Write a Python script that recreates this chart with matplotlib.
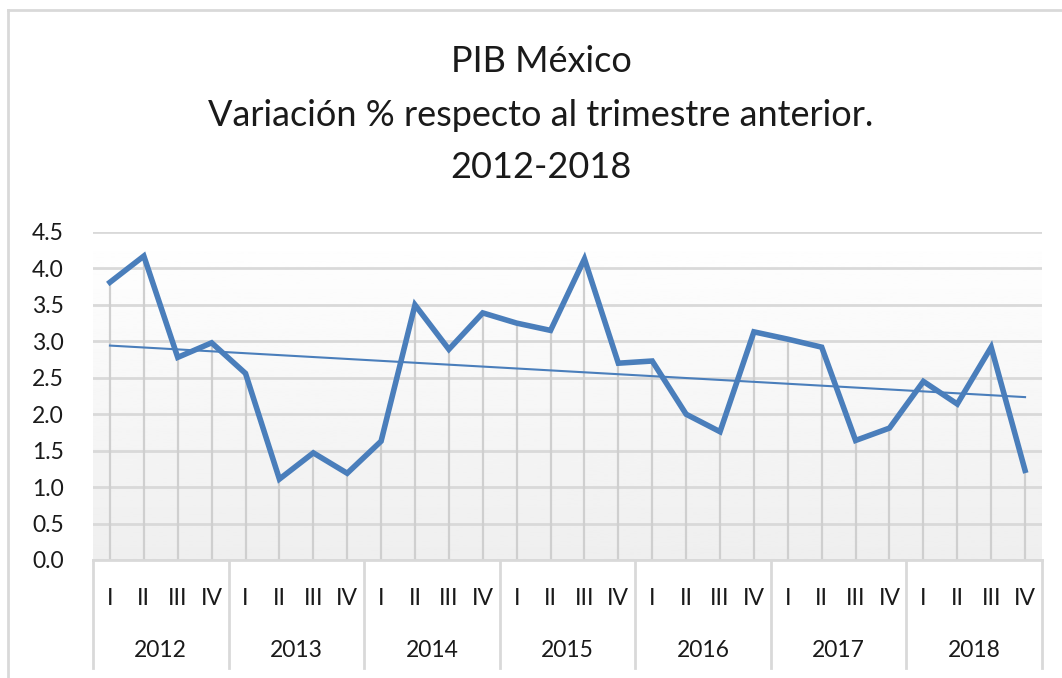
import matplotlib
matplotlib.use("Agg")
import matplotlib.pyplot as plt
import matplotlib.transforms as mtransforms
import numpy as np

# Data
years = ["2012", "2013", "2014", "2015", "2016", "2017", "2018"]
quarters = ["I", "II", "III", "IV"]
pib_var = [3.81, 4.17, 2.78, 2.98,
           2.56, 1.11, 1.47, 1.19,
           1.63, 3.50, 2.89, 3.39,
           3.25, 3.15, 4.13, 2.70,
           2.73, 2.00, 1.76, 3.13,
           3.03, 2.92, 1.64, 1.81,
           2.45, 2.14, 2.92, 1.23]
y_ticks = [0.0, 0.5, 1.0, 1.5, 2.0, 2.5, 3.0, 3.5, 4.0, 4.5]

plt.rcParams['font.family'] = ['Lato', 'DejaVu Sans']

blue = '#4a7ebb'
grid_gray = '#d9d9d9'
text_col = '#1a1a1a'

fig = plt.figure(figsize=(10.62, 6.78), dpi=100)
ax = fig.add_axes([93 / 1062, 118 / 678, 949 / 1062, 328 / 678])

n = len(pib_var)
x = np.arange(n)

# gradient background of the plot area
grad = np.linspace(1.0, 0.935, 256).reshape(-1, 1)
ax.imshow(grad, cmap='gray', vmin=0, vmax=1, aspect='auto',
          extent=[0, 1, 0, 1], transform=ax.transAxes, zorder=0)

# horizontal gridlines
for yv in y_ticks:
    ax.axhline(yv, color=grid_gray, lw=2, zorder=1)

# drop lines from each point
ax.vlines(x, 0, pib_var, color='#cfcfcf', lw=1.6, zorder=1)

# series
ax.plot(x, pib_var, color=blue, lw=4, solid_joinstyle='miter', zorder=3)

# linear trend line
coef = np.polyfit(x, pib_var, 1)
ax.plot(x, np.polyval(coef, x), color=blue, lw=1.5, zorder=2)

ax.set_xlim(-0.5, n - 0.5)
ax.set_ylim(0, 4.5)
ax.set_yticks(y_ticks)
ax.set_yticklabels([f"{v:.1f}" for v in y_ticks])
ax.tick_params(axis='y', length=0, pad=21, labelsize=16.5, labelcolor=text_col)
ax.set_xticks([])
for s in ax.spines.values():
    s.set_visible(False)

# two-level category axis
trans = mtransforms.blended_transform_factory(ax.transData, ax.transAxes)
ax.plot([-0.5, n - 0.5], [0, 0], color=grid_gray, lw=2, transform=trans,
        clip_on=False, zorder=4)
for i in range(len(years) + 1):
    xb = i * 4 - 0.5
    ax.plot([xb, xb], [0, -0.33], color=grid_gray, lw=2, transform=trans,
            clip_on=False)
for i in range(n):
    ax.text(i, -0.116, quarters[i % 4], transform=trans, ha='center',
            va='center', fontsize=16.5, color=text_col)
for i, yr in enumerate(years):
    ax.text(i * 4 + 1.5, -0.277, yr, transform=trans, ha='center',
            va='center', fontsize=16.5, color=text_col)

# title
fig.text(541 / 1062, 1 - 62 / 678, "PIB México", ha='center', va='center',
         fontsize=26, color=text_col)
fig.text(541 / 1062, 1 - 116 / 678, "Variación % respecto al trimestre anterior.",
         ha='center', va='center', fontsize=26, color=text_col)
fig.text(541 / 1062, 1 - 167 / 678, "2012-2018", ha='center', va='center',
         fontsize=26, color=text_col)

# chart border (left and top visible)
fig.add_artist(plt.Line2D([8 / 1062, 8 / 1062], [0, 1 - 10 / 678],
                          transform=fig.transFigure, color=grid_gray, lw=2))
fig.add_artist(plt.Line2D([8 / 1062, 1], [1 - 10 / 678, 1 - 10 / 678],
                          transform=fig.transFigure, color=grid_gray, lw=2))

fig.savefig("out.png", dpi=100)
